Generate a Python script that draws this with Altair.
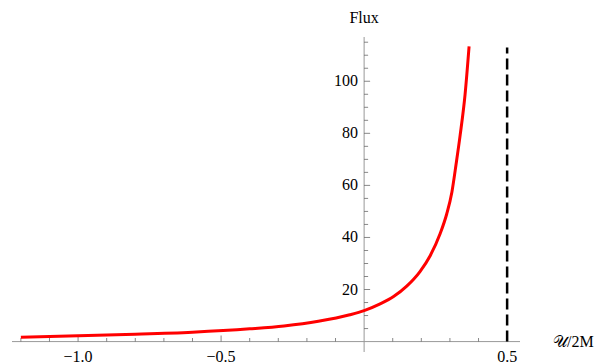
import altair as alt
import pandas as pd

# curve
flux_x = [-1.2, -1.0, -0.8, -0.6, -0.4, -0.28, -0.16, -0.05, 0.0, 0.056, 0.103,
          0.149, 0.196, 0.231, 0.266, 0.289, 0.307, 0.322, 0.336, 0.353, 0.367]
flux_y = [1.7, 2.2, 2.8, 3.6, 4.9, 6.0, 7.8, 10.3, 11.9, 14.5, 17.3,
          21.3, 27.0, 33.0, 41.5, 49.1, 57.5, 68.5, 79.5, 95.0, 113.4]

asymptote_x = [0.5]
asymptote_y = [0]
asymptote_top = [113]

x_major = [-1.0, -0.5, 0.5]
x_minor = [-1.2, -1.1, -0.9, -0.8, -0.7, -0.6, -0.4, -0.3, -0.2, -0.1, 0.1, 0.2, 0.3, 0.4]
y_major = [20, 40, 60, 80, 100]
y_minor = [5, 10, 15, 25, 30, 35, 45, 50, 55, 65, 70, 75, 85, 90, 95, 105, 110, 115]

x_domain = [-1.231, 0.545]
y_domain = [-4, 117]

W, H = 508, 315
FONT = "Liberation Serif, Times New Roman, serif"

xs = alt.Scale(domain=x_domain, nice=False, zero=False)
ys = alt.Scale(domain=y_domain, nice=False, zero=False)

curve_df = pd.DataFrame({"x": flux_x, "y": flux_y})
xmaj_df = pd.DataFrame({"x": x_major, "y": [0] * len(x_major)})
xmin_df = pd.DataFrame({"x": x_minor, "y": [0] * len(x_minor)})
ymaj_df = pd.DataFrame({"x": [0] * len(y_major), "y": y_major})
ymin_df = pd.DataFrame({"x": [0] * len(y_minor), "y": y_minor})
xaxis_df = pd.DataFrame({"x": [x_domain[0]], "x2": [x_domain[1]], "y": [0]})
yaxis_df = pd.DataFrame({"x": [0], "y": [y_domain[0]], "y2": [y_domain[1]]})
asym_df = pd.DataFrame({"x": asymptote_x, "y": asymptote_y, "y2": asymptote_top})
origin_df = pd.DataFrame({"x": [0], "y": [0]})


def X():
    return alt.X("x:Q", scale=xs, axis=None)


def Y():
    return alt.Y("y:Q", scale=ys, axis=None)


x_axis_line = alt.Chart(xaxis_df).mark_rule(color="#999999", strokeWidth=1).encode(
    x=X(), x2="x2:Q", y=Y()
)
y_axis_line = alt.Chart(yaxis_df).mark_rule(color="#999999", strokeWidth=1).encode(
    x=X(), y=Y(), y2="y2:Q"
)

x_major_ticks = alt.Chart(xmaj_df).mark_tick(
    orient="vertical", size=6, thickness=1, color="#555555", yOffset=-3
).encode(x=X(), y=Y())
x_minor_ticks = alt.Chart(xmin_df).mark_tick(
    orient="vertical", size=3.5, thickness=1, color="#555555", yOffset=-1.75
).encode(x=X(), y=Y())
y_major_ticks = alt.Chart(ymaj_df).mark_tick(
    orient="horizontal", size=6, thickness=1, color="#555555", xOffset=3
).encode(x=X(), y=Y())
y_minor_ticks = alt.Chart(ymin_df).mark_tick(
    orient="horizontal", size=4, thickness=1, color="#555555", xOffset=2
).encode(x=X(), y=Y())

x_labels = alt.Chart(xmaj_df).mark_text(
    font=FONT, fontSize=16, color="black", align="center", baseline="alphabetic", dy=20
).encode(x=X(), y=Y(), text=alt.Text("x:Q", format=".1f"))
y_labels = alt.Chart(ymaj_df).mark_text(
    font=FONT, fontSize=16, color="black", align="right", baseline="middle", dx=-6
).encode(x=X(), y=Y(), text=alt.Text("y:Q", format="d"))

flux_title = alt.Chart(origin_df).mark_text(
    font=FONT, fontSize=16, color="black", align="center", baseline="alphabetic", text="Flux"
).encode(x=X(), y=alt.value(-14))
x_title = alt.Chart(origin_df).mark_text(
    font=FONT, fontSize=16, color="black", align="left", baseline="middle", text="𝒰/2M"
).encode(x=alt.value(541), y=Y())

asym = alt.Chart(asym_df).mark_rule(color="black", strokeWidth=2.5, strokeDash=[11, 5]).encode(
    x=X(), y=Y(), y2="y2:Q"
)

curve = alt.Chart(curve_df).mark_line(color="#ff0000", strokeWidth=3, interpolate="monotone").encode(
    x=X(), y=Y()
)

chart = alt.layer(
    x_axis_line, y_axis_line, x_major_ticks, x_minor_ticks, y_major_ticks, y_minor_ticks,
    x_labels, y_labels, flux_title, x_title, asym, curve
).properties(
    width=W, height=H,
    autosize=alt.AutoSizeParams(type="none"),
    padding={"left": 4, "top": 29, "right": 79, "bottom": 12},
).configure_view(stroke=None)

chart.save("out.html", embed_options={"renderer": "svg", "actions": False})
